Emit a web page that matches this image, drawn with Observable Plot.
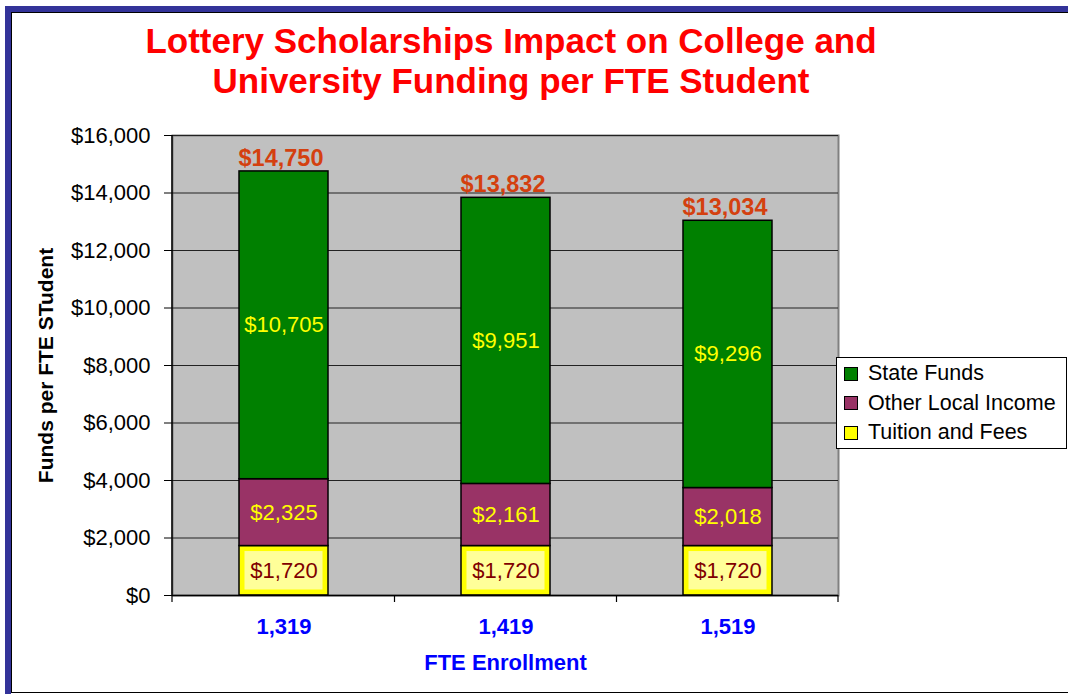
<!DOCTYPE html>
<html>
<head>
<meta charset="utf-8">
<script src="https://cdn.jsdelivr.net/npm/d3@7"></script>
<script src="https://cdn.jsdelivr.net/npm/@observablehq/plot@0.6"></script>
<style>
  body { margin: 0; background: #fff; font-family: "Liberation Sans", Arial, sans-serif; }
  #wrap { position: relative; width: 1068px; height: 694px; overflow: hidden; background: #fff; }
  #chart { position: absolute; left: 0; top: 0; }
  #frameOuter { position: absolute; left: 5px; top: 6px; right: -10px; bottom: 0; border-top: 6px solid #333399; border-left: 6px solid #333399; pointer-events: none; }
  #frameInner { position: absolute; left: 0; top: 0; right: 0; bottom: 1px; border-top: 1px solid #000; border-left: 1px solid #000; border-bottom: 1px solid #000; }
  #title { position: absolute; left: 0; width: 1022px; top: 21px; text-align: center; color: #FF0000; font-weight: bold; font-size: 35px; line-height: 40px; }
  #legend { position: absolute; left: 836px; top: 357px; width: 229px; height: 89px; border: 1px solid #000; background: #fff; padding-top: 1px; box-sizing: content-box; }
  .lrow { height: 29.5px; display: flex; align-items: center; font-size: 21.5px; color: #000; white-space: nowrap; }
  .sw { width: 12px; height: 12px; border: 1px solid #000; margin-left: 7px; margin-right: 10px; flex: none; }
</style>
</head>
<body>
<div id="wrap">
  <div id="chart"></div>
  <div id="title"></div>
  <div id="legend"></div>
  <div id="frameOuter"><div id="frameInner"></div></div>
</div>
<script>
// ---- data ----
const titleLines = ["Lottery Scholarships Impact on College and", "University Funding per FTE Student"];
const categories = ["1,319", "1,419", "1,519"];
const seriesNames = ["Tuition and Fees", "Other Local Income", "State Funds"];
const tuitionFees = [1720, 1720, 1720];
const otherLocalIncome = [2325, 2161, 2018];
const stateFunds = [10705, 9951, 9296];
const totals = [14750, 13832, 13034];
const yTicks = [0, 2000, 4000, 6000, 8000, 10000, 12000, 14000, 16000];
const xTitle = "FTE Enrollment";
const yTitle = "Funds per FTE STudent";
const seriesColors = ["#FFFF00", "#993366", "#008000"];

// ---- build table ----
const seriesValues = [tuitionFees, otherLocalIncome, stateFunds];
const rows = [];
categories.forEach((cat, i) => {
  let base = 0;
  seriesNames.forEach((s, j) => {
    const v = seriesValues[j][i];
    rows.push({cat, series: s, value: v, y1: base, y2: base + v});
    base += v;
  });
});
const totalRows = categories.map((cat, i) => ({cat, total: totals[i]}));
const money = d => "$" + d3.format(",")(d);

// ---- title & legend ----
document.getElementById("title").innerHTML = titleLines.map(t => `<div>${t}</div>`).join("");
const legend = document.getElementById("legend");
seriesNames.slice().reverse().forEach((s) => {
  const j = seriesNames.indexOf(s);
  const r = document.createElement("div");
  r.className = "lrow";
  r.innerHTML = `<span class="sw" style="background:${seriesColors[j]}"></span><span>${s}</span>`;
  legend.appendChild(r);
});

// ---- custom axis lines (left axis line + x band boundary ticks) ----
function axisLines(index, scales, values, dims) {
  const {marginLeft: ml, marginTop: mt, marginBottom: mb, marginRight: mr, width: w, height: h} = dims;
  const bottom = h - mb;
  const g = d3.create("svg:g");
  g.append("line").attr("x1", ml).attr("x2", ml).attr("y1", mt).attr("y2", bottom)
    .attr("stroke", "#000").attr("stroke-width", 1.5);
  const x = scales.x, bw = x.bandwidth();
  const centers = categories.map(c => x(c) + bw / 2);
  const bounds = [ml, ...d3.pairs(centers, (a, b) => (a + b) / 2), w - mr];
  bounds.forEach(b => g.append("line").attr("x1", b).attr("x2", b).attr("y1", bottom).attr("y2", bottom + 7)
    .attr("stroke", "#000").attr("stroke-width", 1.2));
  return g.node();
}

const chart = Plot.plot({
  width: 1068,
  height: 694,
  marginLeft: 172,
  marginRight: 230,
  marginTop: 135,
  marginBottom: 99,
  style: {fontFamily: "'Liberation Sans', Arial, sans-serif", fontSize: "22px", background: "transparent", overflow: "visible", color: "#000"},
  x: {domain: categories, paddingInner: 0.6, paddingOuter: 0.3, label: null},
  y: {domain: [0, 16000], ticks: yTicks, label: null},
  color: {domain: seriesNames, range: seriesColors},
  marks: [
    Plot.frame({fill: "#C0C0C0", stroke: "#808080", strokeWidth: 2}),
    Plot.gridY(yTicks, {stroke: "#222", strokeOpacity: 1, strokeWidth: 1}),
    Plot.barY(rows, {x: "cat", y1: "y1", y2: "y2", fill: "series", stroke: "#000", strokeWidth: 1.5}),
    Plot.barY(rows.filter(d => d.series === seriesNames[0]), {x: "cat", y1: "y1", y2: "y2", fill: "#FFFF99", inset: 5.5}),
    Plot.text(rows.filter(d => d.series !== seriesNames[0]), {x: "cat", y: d => (d.y1 + d.y2) / 2, text: d => money(d.value), fill: "#FFFF00", fontSize: 22}),
    Plot.text(rows.filter(d => d.series === seriesNames[0]), {x: "cat", y: d => (d.y1 + d.y2) / 2, text: d => money(d.value), fill: "#800000", fontSize: 22}),
    Plot.text(totalRows, {x: "cat", y: "total", text: d => money(d.total), fill: "#D4400F", fontWeight: "bold", fontSize: 23.5, dy: -13, dx: -3}),
    Plot.axisY({ticks: yTicks, tickFormat: money, tickSize: 8, tickPadding: 14, fontSize: 22, fill: "#000"}),
    Plot.axisX({tickSize: 0, tickPadding: 23, fontSize: 22, fontWeight: "bold", fill: "#0000FF"}),
    Plot.ruleY([0], {stroke: "#000", strokeWidth: 1.5}),
    axisLines,
    Plot.text([xTitle], {frameAnchor: "bottom", dy: 74, text: d => d, fill: "#0000FF", fontWeight: "bold", fontSize: 22}),
    Plot.text([yTitle], {frameAnchor: "left", rotate: -90, dx: -126, textAnchor: "middle", text: d => d, fill: "#000", fontWeight: "bold", fontSize: 21})
  ]
});
document.getElementById("chart").appendChild(chart);
</script>
</body>
</html>
